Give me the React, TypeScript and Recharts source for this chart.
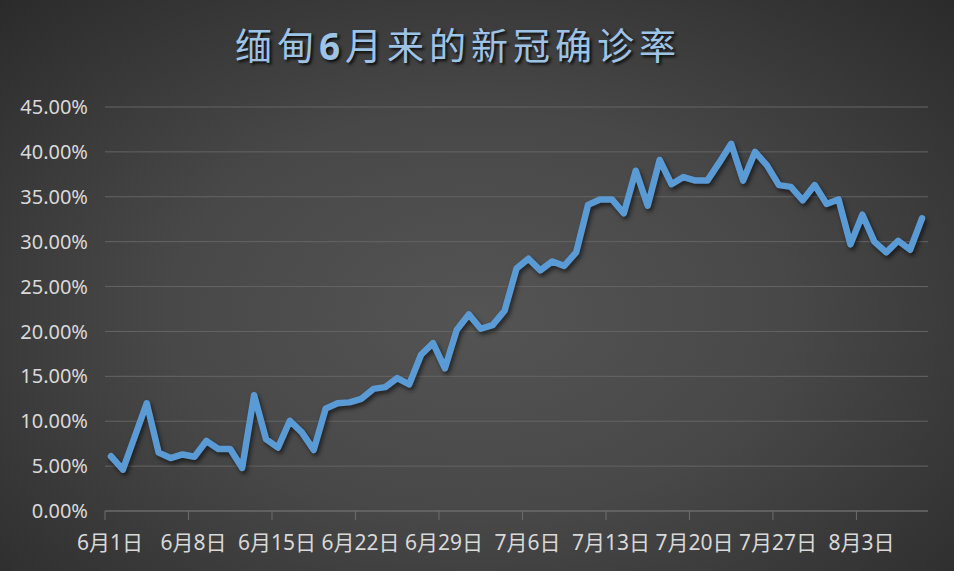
import React from "react";
import { LineChart, Line, XAxis, YAxis, CartesianGrid } from "recharts";

const dates: string[] = [
  "6月1日","6月2日","6月3日","6月4日","6月5日","6月6日","6月7日","6月8日","6月9日","6月10日",
  "6月11日","6月12日","6月13日","6月14日","6月15日","6月16日","6月17日","6月18日","6月19日","6月20日",
  "6月21日","6月22日","6月23日","6月24日","6月25日","6月26日","6月27日","6月28日","6月29日","6月30日",
  "7月1日","7月2日","7月3日","7月4日","7月5日","7月6日","7月7日","7月8日","7月9日","7月10日",
  "7月11日","7月12日","7月13日","7月14日","7月15日","7月16日","7月17日","7月18日","7月19日","7月20日",
  "7月21日","7月22日","7月23日","7月24日","7月25日","7月26日","7月27日","7月28日","7月29日","7月30日",
  "7月31日","8月1日","8月2日","8月3日","8月4日","8月5日","8月6日","8月7日","8月8日",
];

// positivity rate, percent
const rates: number[] = [
  6.1, 4.6, 8.3, 12.0, 6.5, 5.9, 6.3, 6.05, 7.8, 6.9,
  6.9, 4.8, 12.9, 8.0, 7.05, 10.05, 8.75, 6.8, 11.4, 12.0,
  12.1, 12.5, 13.6, 13.8, 14.8, 14.1, 17.4, 18.7, 15.9, 20.2,
  21.9, 20.3, 20.7, 22.3, 27.0, 28.1, 26.8, 27.8, 27.3, 28.8,
  34.1, 34.7, 34.7, 33.15, 37.9, 34.0, 39.1, 36.4, 37.2, 36.8,
  36.8, 38.8, 40.9, 36.8, 40.0, 38.5, 36.3, 36.1, 34.6, 36.3,
  34.2, 34.7, 29.7, 33.0, 30.0, 28.8, 30.1, 29.1, 32.6,
];

const yTicks: number[] = [0, 5, 10, 15, 20, 25, 30, 35, 40, 45];

const titleA = "缅甸";
const titleNum = "6";
const titleB = "月来的新冠确诊率";

const data = dates.map((d, i) => ({ date: d, rate: rates[i] }));

const W = 954;
const H = 571;
const M = { top: 107, right: 26, bottom: 20, left: 0 };
const Y_W = 105;
const PLOT_W = W - Y_W - M.right;

const XTick = (props: any) => {
  const { x, y, payload } = props;
  const half = PLOT_W / dates.length / 2;
  return (
    <g>
      <line x1={x - half} x2={x - half} y1={y} y2={y + 9} stroke="#6e6e6e" strokeWidth={1} />
      <text
        x={x - 1}
        y={y + 31}
        textAnchor="middle"
        dominantBaseline="central"
        fill="#d9d9d9"
        fontSize={21}
        fontFamily="'Noto Sans', 'Noto Sans CJK SC', sans-serif"
      >
        {payload.value}
      </text>
    </g>
  );
};

export default function App() {
  return (
    <div
      style={{
        position: "absolute",
        left: 0,
        top: 0,
        width: W,
        height: H,
        overflow: "hidden",
        background:
          "radial-gradient(ellipse 72% 78% at 50% 55%, #545454 0%, #484848 45%, #2a2a2a 100%)",
        fontFamily: "'Noto Sans', 'Noto Sans CJK SC', sans-serif",
      }}
    >
      <style>{`.rate-line .recharts-line-curve { filter: drop-shadow(2px 3px 2px rgba(0,0,0,0.55)); }`}</style>
      <div
        style={{
          position: "absolute",
          left: 0,
          width: 916,
          top: 17,
          textAlign: "center",
          fontSize: 37,
          letterSpacing: 5,
          lineHeight: "54px",
          color: "#9dc3e6",
          fontFamily: "'Noto Sans CJK SC', 'Noto Sans', sans-serif",
          textShadow: "2px 2px 3px rgba(0,0,0,0.85)",
          zIndex: 2,
        }}
      >
        {titleA}
        <span style={{ fontWeight: 700, fontFamily: "'Noto Sans', sans-serif" }}>{titleNum}</span>
        {titleB}
      </div>
      <LineChart width={W} height={H} data={data} margin={M}>
        <CartesianGrid vertical={false} stroke="#646464" strokeWidth={1} />
        <XAxis
          dataKey="date"
          scale="band"
          interval={6}
          tickLine={false}
          tickSize={0}
          tickMargin={0}
          axisLine={{ stroke: "#6e6e6e", strokeWidth: 1 }}
          height={40}
          tick={<XTick />}
        />
        <YAxis
          width={Y_W}
          domain={[0, 45]}
          ticks={yTicks}
          interval={0}
          axisLine={false}
          tickLine={false}
          tickSize={0}
          tickMargin={17}
          tick={{ fill: "#d9d9d9", fontSize: 20 }}
          tickFormatter={(v: number) => v.toFixed(2) + "%"}
        />
        <Line
          className="rate-line"
          type="linear"
          dataKey="rate"
          stroke="#5b9bd5"
          strokeWidth={6.5}
          strokeLinejoin="round"
          strokeLinecap="round"
          dot={false}
          activeDot={false}
          isAnimationActive={false}
        />
      </LineChart>
    </div>
  );
}
